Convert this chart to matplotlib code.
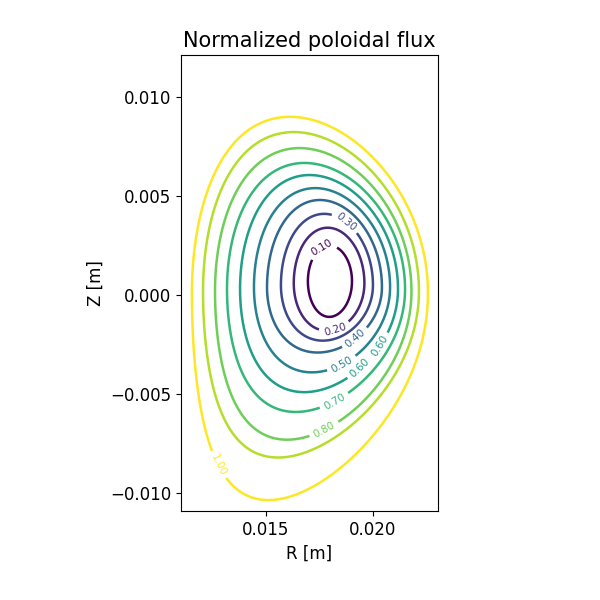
import numpy as np
import matplotlib
matplotlib.use("Agg")
import matplotlib.pyplot as plt
import matplotlib.tri as mtri

# flux surface shapes (per level)
levels   = [0.1, 0.2, 0.3, 0.4, 0.5, 0.6, 0.7, 0.8, 0.9, 1.0]
r_left   = [0.01696, 0.0163, 0.0157, 0.01505, 0.01444, 0.01379, 0.01318, 0.01262, 0.01206, 0.01154]
r_right  = [0.01902, 0.0196, 0.0200, 0.02042, 0.0208, 0.02117, 0.0215, 0.0218, 0.02215, 0.02257]
z_top    = [0.0025, 0.0034, 0.0041, 0.0048, 0.0054, 0.00606, 0.00667, 0.00742, 0.00823, 0.0090]
z_bottom = [-0.0011, -0.0018, -0.0023, -0.0029, -0.0039, -0.0049, -0.0059, -0.0073, -0.0082, -0.01035]
z_mid    = [0.0007, 0.0006, 0.0005, 0.0004, 0.0004, 0.0003, 0.0003, 0.0002, 0.0002, 0.0001]
delta_up = [0.02, 0.04, 0.06, 0.08, 0.10, 0.12, 0.13, 0.14, 0.16, 0.17]
delta_lo = [0.03, 0.06, 0.09, 0.12, 0.15, 0.19, 0.23, 0.27, 0.31, 0.36]
axis_R, axis_Z = 0.0180, 0.0007
# label positions (R, Z)
label_pos = [(0.01750, 0.00253), (0.01827, -0.00187), (0.01874, 0.00369), (0.01935, -0.00237),
             (0.01864, -0.00364), (0.02028, -0.00253), (0.01958, -0.00389), (0.01841, -0.00571),
             (0.01780, -0.00692), (0.01327, -0.00833)]

th = np.linspace(0, 2*np.pi, 360, endpoint=False)

def shape(i):
    rc = (r_left[i] + r_right[i]) / 2
    a = (r_right[i] - r_left[i]) / 2
    return rc, a, z_mid[i], z_top[i] - z_mid[i], z_mid[i] - z_bottom[i], delta_up[i], delta_lo[i]

def ring(p, t):
    up = np.sin(t) >= 0
    d = np.where(up, p[5], p[6])
    h = np.where(up, p[3], p[4])
    return p[0] + p[1]*np.cos(t + d*np.sin(t)), p[2] + h*np.sin(t)

shapes = [shape(i) for i in range(len(levels))]
core = (axis_R, 0.0, axis_Z, 0.0, 0.0, 0.0, 0.0)
outer = tuple(v*1.08 if k in (1, 3, 4) else v for k, v in enumerate(shapes[-1]))
allp = [core] + shapes + [outer]
allv = [0.0] + levels + [1.1]
Rs, Zs, Ps = [axis_R], [axis_Z], [0.0]
for j in range(1, len(allp)):
    for f in (0.5, 1.0):
        p = tuple((1-f)*a + f*b for a, b in zip(allp[j-1], allp[j]))
        v = (1-f)*allv[j-1] + f*allv[j]
        t = th + (0.5*(th[1]-th[0]) if f == 0.5 else 0.0)
        R, Z = ring(p, t)
        Rs += list(R); Zs += list(Z); Ps += [v]*len(t)

fig = plt.figure(figsize=(6, 6), dpi=100)
ax = fig.add_axes([181/600, 89/600, 257/600, 456/600])
tri = mtri.Triangulation(np.array(Rs), np.array(Zs))
cs = ax.tricontour(tri, np.array(Ps), levels=levels, cmap='viridis', linewidths=1.8)
ax.clabel(cs, fmt='%.2f', fontsize=7.5, manual=label_pos)
ax.set_xlim(0.01103, 0.02304)
ax.set_ylim(-0.0109, 0.01212)
ax.set_xticks([0.015, 0.020])
ax.set_yticks([-0.010, -0.005, 0.0, 0.005, 0.010])
ax.tick_params(labelsize=12)
ax.set_xlabel('R [m]', fontsize=12)
ax.set_ylabel('Z [m]', fontsize=12)
ax.set_title('Normalized poloidal flux', fontsize=15)
fig.savefig('out.png')
